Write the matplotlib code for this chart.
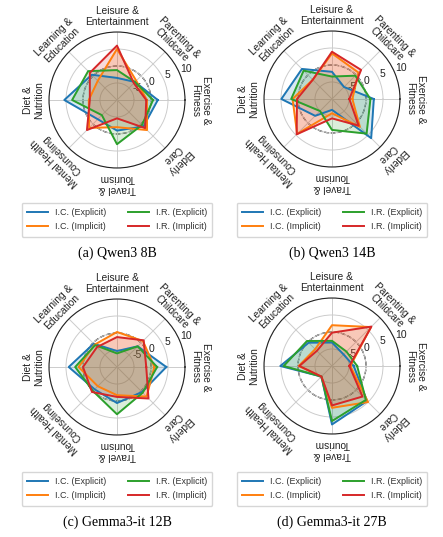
import numpy as np
import matplotlib
matplotlib.use("Agg")
import matplotlib.pyplot as plt

plt.rcParams['font.family'] = ['Liberation Sans', 'DejaVu Sans']

# categories, counter-clockwise starting at 3 o'clock
categories = ["Exercise &\nFitness", "Parenting &\nChildcare", "Leisure &\nEntertainment",
              "Learning &\nEducation", "Diet &\nNutrition", "Mental Health\nCounseling",
              "Travel &\nTourism", "Elderly\nCare"]

series_names = ["I.C. (Explicit)", "I.C. (Implicit)", "I.R. (Explicit)", "I.R. (Implicit)"]
series_colors = ["#1f77b4", "#ff7f0e", "#2ca02c", "#d62728"]

# (a) Qwen3 8B
qwen8_ic_exp = [2.0, -2.5, -3.5, 0.5, 5.5, -2.0, -1.0, 1.0]
qwen8_ic_imp = [-1.2, -2.0, 5.0, -2.0, -1.7, 1.6, -2.0, 2.5]
qwen8_ir_exp = [0.6, -2.5, -1.2, 2.0, 3.2, -3.7, 3.0, 0.4]
qwen8_ir_imp = [-1.4, -3.0, 6.0, 1.3, -2.0, 2.5, -4.6, 1.7]

# (b) Qwen3 14B
qwen14_ic_exp = [2.3, -5.0, -2.0, 2.5, 4.9, -3.0, -6.8, 6.3]
qwen14_ic_imp = [-4.0, 1.0, 3.4, -2.0, 1.6, 4.5, -5.8, 1.6]
qwen14_ir_exp = [1.3, -0.3, -3.4, 1.8, 2.0, -5.0, -0.9, 4.4]
qwen14_ir_imp = [-4.9, 2.1, 3.9, -2.0, 0.3, 4.7, -4.3, 1.1]

# (c) Gemma3-it 12B
g12_ic_exp = [4.5, -1.4, -5.3, -0.3, 4.2, -0.7, 0.6, 0.4]
g12_ic_imp = [1.0, 0.8, 0.3, -0.7, 1.3, -2.0, -1.7, 2.3]
g12_ir_exp = [1.8, -1.4, -6.0, -0.9, 2.3, 0.0, 3.9, 0.7]
g12_ir_imp = [-1.4, 1.1, -1.2, -1.7, 0.0, 0.4, -1.2, 3.1]

# (d) Gemma3-it 27B
g27_ic_exp = [-3.6, -5.2, -3.1, -0.3, 5.2, -5.6, 7.2, 4.6]
g27_ic_imp = [-4.6, 6.2, 2.0, -3.0, -0.2, -5.6, 2.3, 5.0]
g27_ir_exp = [-2.6, -4.0, -2.6, 0.4, 4.2, -5.6, 6.2, 4.1]
g27_ir_imp = [-4.9, 6.4, -0.2, -3.7, -0.4, -5.6, 1.6, 2.7]

captions = ["(a) Qwen3 8B", "(b) Qwen3 14B", "(c) Gemma3-it 12B", "(d) Gemma3-it 27B"]
panels = [
    [qwen8_ic_exp, qwen8_ic_imp, qwen8_ir_exp, qwen8_ir_imp],
    [qwen14_ic_exp, qwen14_ic_imp, qwen14_ir_exp, qwen14_ir_imp],
    [g12_ic_exp, g12_ic_imp, g12_ir_exp, g12_ir_imp],
    [g27_ic_exp, g27_ic_imp, g27_ir_exp, g27_ir_imp],
]

W, H = 443, 537
fig = plt.figure(figsize=(W / 100, H / 100), dpi=100)

# panel centres in pixels (from top-left) and radius
centres = [(117, 100), (332, 99), (117, 367), (332, 366)]
R = 68
legend_tops = [198, 198, 467, 467]
caption_y = [253, 253, 522, 522]

n = len(categories)
angles = np.linspace(0, 2 * np.pi, n, endpoint=False)
closed = np.concatenate([angles, angles[:1]])

for k, (cx, cy) in enumerate(centres):
    ax = fig.add_axes([(cx - R) / W, 1 - (cy + R) / H, 2 * R / W, 2 * R / H], polar=True)
    ax.set_ylim(-10, 10)
    ax.set_yticks([-5, 0, 5, 10])
    ax.set_yticklabels(["-5", "0", "5", "10"], fontsize=7.5, color="#222222")
    ax.set_rlabel_position(22.5)
    ax.set_xticks(angles)
    ax.set_xticklabels([])
    ax.grid(color="#cccccc", linewidth=0.7)
    ax.spines['polar'].set_color("#222222")
    ax.spines['polar'].set_linewidth(0.8)
    ax.tick_params(pad=0)

    # zero reference ring
    ring = np.linspace(0, 2 * np.pi, 200)
    ax.plot(ring, np.zeros_like(ring), "--", color="black", linewidth=0.9, zorder=1)

    lines = []
    for vals, name, col in zip(panels[k], series_names, series_colors):
        v = np.concatenate([vals, vals[:1]])
        ln, = ax.plot(closed, v, color=col, linewidth=1.4, label=name, zorder=3)
        ax.fill(closed, v, color=col, alpha=0.17, zorder=2)
        lines.append(ln)

    for a, lab in zip(angles, categories):
        ax.text(a, 14.5, lab, rotation=np.degrees(a) - 90, rotation_mode="anchor",
                ha="center", va="center", fontsize=7.3, color="#222222",
                linespacing=1.15, clip_on=False)

    fig.legend(lines, series_names, ncol=2, fontsize=6.5,
               loc="upper center", bbox_to_anchor=(cx / W, 1 - legend_tops[k] / H),
               frameon=True, handlelength=2.3, columnspacing=2.4,
               borderpad=0.6, labelspacing=0.6, edgecolor="#cccccc", labelcolor="#333333")

    fig.text(cx / W, 1 - caption_y[k] / H, captions[k], ha="center", va="center",
             fontsize=10, family="Liberation Serif")

fig.savefig("out.png", dpi=100)
